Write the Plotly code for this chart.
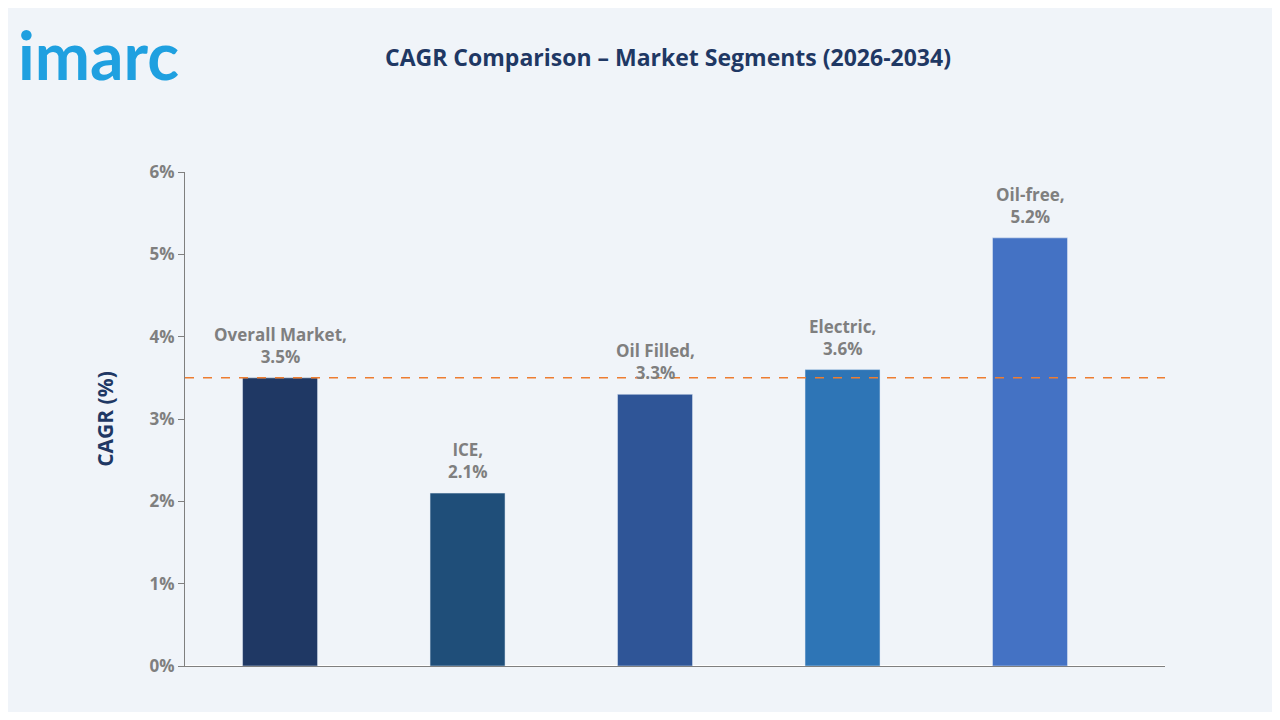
import plotly.graph_objects as go

segments = ["Overall Market", "ICE", "Oil Filled", "Electric", "Oil-free"]
cagr = [3.5, 2.1, 3.3, 3.6, 5.2]
bar_colors = ["#1f3864", "#1f4e79", "#2f5597", "#2e75b6", "#4472c4"]
overall = 3.5
y_ticks = [0, 1, 2, 3, 4, 5, 6]

# page has 8px body margin, so the figure sits at (8, 8)
W, H = 1264, 704
L, R, T, B = 177, 107, 164, 46
pw, ph = W - L - R, H - T - B

fig = go.Figure()
fig.add_trace(go.Bar(x=segments, y=cagr, marker_color=bar_colors, hoverinfo="skip"))
fig.add_shape(type="line", xref="paper", x0=0, x1=1, y0=overall, y1=overall,
              line=dict(color="#ed7d31", width=1.5, dash="dash"))

# value labels sit a bit further above the bars than plotly's outside text
for s, v in zip(segments, cagr):
    fig.add_annotation(x=s, y=v, text=f"<b>{s},<br>{v}%</b>", showarrow=False,
                       yanchor="bottom", yshift=8,
                       font=dict(color="#7f7f7f", size=17, family="Open Sans"))

fig.update_layout(
    width=W, height=H,
    paper_bgcolor="#f0f4f9", plot_bgcolor="#f0f4f9",
    margin=dict(l=L, r=R, t=T, b=B),
    bargap=0.6, showlegend=False,
    title=dict(text="<b>CAGR Comparison – Market Segments (2026-2034)</b>",
               x=(668 - 8) / W, xanchor="center", y=1 - (58 - 8) / H, yanchor="middle",
               font=dict(size=23, color="#1f3864", family="Open Sans")),
    font=dict(family="Open Sans"),
)
fig.update_xaxes(range=[-0.507, 4.72], showticklabels=False, showline=True,
                 linecolor="#7f7f7f", ticks="", showgrid=False)
fig.update_yaxes(range=[0, 6], tickvals=y_ticks, ticktext=[f"<b>{t}%</b>" for t in y_ticks],
                 showgrid=False, showline=True, linecolor="#7f7f7f",
                 ticks="outside", ticklen=6, tickcolor="#7f7f7f",
                 tickfont=dict(size=17, color="#7f7f7f"),
                 title=dict(text="<b>CAGR (%)</b>", standoff=30,
                            font=dict(size=21, color="#1f3864")))

fig.add_annotation(text="<b>imarc</b>", xref="paper", yref="paper",
                   x=(16 - 8 - L) / pw, y=1 + (T - (54 - 8)) / ph,
                   xanchor="left", yanchor="middle", showarrow=False,
                   font=dict(size=66, color="#1fa0e0", family="Lato"))

fig.write_html("out.html")
